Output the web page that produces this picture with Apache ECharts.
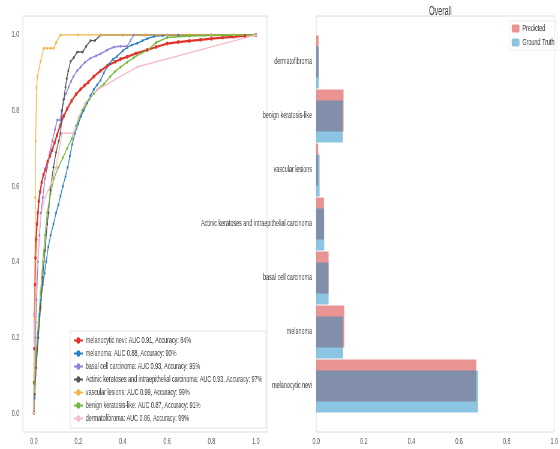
<!DOCTYPE html>
<html>
<head>
<meta charset="utf-8">
<script src="https://cdn.jsdelivr.net/npm/echarts@6.0.0/dist/echarts.min.js"></script>
<style>
html, body { margin: 0; padding: 0; background: #fff; overflow: hidden; }
/* the figure is drawn wide and squeezed horizontally, like the reference */
#main { width: 933px; height: 449px; transform: scaleX(0.6); transform-origin: 0 0; }
</style>
</head>
<body>
<div id="main"></div>
<script>
// ROC legend
var classNames = ['melanocytic nevi', 'melanoma', 'basal cell carcinoma',
    'Actinic keratoses and intraepithelial carcinoma', 'vascular lesions',
    'benign keratosis-like', 'dermatofibroma'];
var aucValues = ['0.91', '0.88', '0.93', '0.93', '0.99', '0.87', '0.86'];
var accValues = ['84%', '90%', '95%', '97%', '99%', '91%', '99%'];
var lineColors = ['#e2332b', '#2a7fc0', '#8f80dc', '#555555', '#f2b446', '#72b83a', '#f7bcc4'];

// ROC curves: [false positive rate, true positive rate]
var rocNevi = [[0,0],[0.001,0.08],[0.002,0.17],[0.003,0.26],[0.005,0.34],[0.007,0.41],[0.01,0.46],[0.014,0.5],[0.018,0.53],[0.022,0.56],[0.028,0.585],[0.035,0.61],[0.043,0.63],[0.052,0.645],[0.062,0.665],[0.072,0.68],[0.082,0.695],[0.093,0.715],[0.104,0.735],[0.118,0.76],[0.134,0.785],[0.15,0.805],[0.17,0.826],[0.19,0.843],[0.21,0.856],[0.228,0.866],[0.245,0.875],[0.27,0.89],[0.3,0.905],[0.33,0.918],[0.366,0.929],[0.39,0.936],[0.42,0.942],[0.46,0.951],[0.51,0.96],[0.55,0.968],[0.6,0.977],[0.65,0.981],[0.7,0.984],[0.75,0.987],[0.8,0.99],[0.85,0.993],[0.9,0.995],[0.95,0.998],[1,1]];
var rocMelanoma = [[0,0],[0.003,0.04],[0.007,0.1],[0.012,0.16],[0.018,0.21],[0.025,0.26],[0.032,0.3],[0.04,0.34],[0.048,0.37],[0.055,0.4],[0.065,0.44],[0.075,0.47],[0.088,0.5],[0.1,0.53],[0.11,0.55],[0.12,0.575],[0.13,0.6],[0.142,0.625],[0.152,0.65],[0.162,0.68],[0.172,0.71],[0.185,0.74],[0.2,0.765],[0.212,0.785],[0.224,0.8],[0.24,0.82],[0.255,0.84],[0.27,0.856],[0.285,0.868],[0.3,0.88],[0.315,0.9],[0.336,0.922],[0.355,0.935],[0.374,0.943],[0.4,0.958],[0.42,0.967],[0.44,0.973],[0.465,0.978],[0.49,0.985],[0.51,0.99],[0.54,0.996],[0.58,0.998],[0.65,1],[0.8,1],[1,1]];
var rocBcc = [[0,0],[0.003,0.1],[0.007,0.2],[0.012,0.3],[0.018,0.4],[0.025,0.47],[0.032,0.53],[0.04,0.57],[0.05,0.62],[0.06,0.65],[0.072,0.69],[0.083,0.72],[0.095,0.75],[0.105,0.775],[0.118,0.775],[0.125,0.8],[0.133,0.828],[0.145,0.845],[0.156,0.862],[0.168,0.878],[0.178,0.89],[0.195,0.905],[0.21,0.915],[0.23,0.928],[0.254,0.938],[0.28,0.945],[0.3,0.95],[0.33,0.96],[0.36,0.968],[0.39,0.97],[0.42,0.97],[0.435,0.985],[0.45,1],[0.6,1],[0.8,1],[1,1]];
var rocAkiec = [[0,0],[0.004,0.05],[0.01,0.12],[0.02,0.2],[0.03,0.28],[0.04,0.36],[0.05,0.43],[0.06,0.5],[0.066,0.53],[0.074,0.59],[0.088,0.65],[0.1,0.69],[0.112,0.72],[0.12,0.74],[0.124,0.77],[0.127,0.8],[0.135,0.83],[0.142,0.862],[0.148,0.885],[0.155,0.905],[0.165,0.93],[0.18,0.94],[0.195,0.955],[0.22,0.955],[0.235,0.97],[0.255,0.985],[0.275,0.985],[0.3,1],[0.4,1],[0.5,1],[0.6,1],[0.7,1],[0.8,1],[0.9,1],[1,1]];
var rocVasc = [[0,0],[0.002,0.1],[0.004,0.25],[0.005,0.4],[0.006,0.57],[0.008,0.72],[0.012,0.86],[0.016,0.89],[0.03,0.93],[0.044,0.965],[0.06,0.965],[0.075,0.965],[0.089,0.965],[0.1,0.98],[0.12,1],[0.2,1],[0.3,1],[0.4,1],[0.5,1],[0.6,1],[0.7,1],[0.8,1],[0.9,1],[1,1]];
var rocBkl = [[0,0],[0.004,0.08],[0.01,0.16],[0.02,0.24],[0.03,0.32],[0.04,0.4],[0.05,0.47],[0.06,0.53],[0.075,0.58],[0.09,0.62],[0.11,0.65],[0.13,0.675],[0.15,0.7],[0.17,0.725],[0.19,0.76],[0.205,0.78],[0.218,0.8],[0.235,0.815],[0.25,0.83],[0.27,0.845],[0.285,0.855],[0.315,0.87],[0.344,0.89],[0.365,0.903],[0.39,0.915],[0.42,0.928],[0.45,0.94],[0.485,0.952],[0.52,0.963],[0.55,0.98],[0.6,0.993],[0.7,0.997],[0.85,0.999],[1,1]];
var rocDf = [[0,0],[0,0.13],[0.005,0.26],[0.01,0.35],[0.02,0.43],[0.03,0.52],[0.05,0.57],[0.08,0.61],[0.1,0.65],[0.127,0.74],[0.178,0.74],[0.2,0.78],[0.23,0.82],[0.285,0.855],[0.464,0.915],[1,1]];
var rocCurves = [rocNevi, rocMelanoma, rocBcc, rocAkiec, rocVasc, rocBkl, rocDf];

// Overall class share
var barCategories = ['melanocytic nevi', 'melanoma', 'basal cell carcinoma',
    'Actinic keratoses and intraepithelial carcinoma', 'vascular lesions',
    'benign keratosis-like', 'dermatofibroma'];
var predicted = [0.662, 0.116, 0.051, 0.032, 0.008, 0.113, 0.010];
var groundTruth = [0.669, 0.111, 0.051, 0.033, 0.014, 0.110, 0.011];
var tickValues = [0, 0.2, 0.4, 0.6, 0.8, 1.0];

var chart = echarts.init(document.getElementById('main'));

var font = 'Liberation Sans';
var labelColor = '#555';
var frameColor = '#dcdcdc';

function fmt(v) { return v.toFixed(1); }

var legendNames = classNames.map(function (n, i) {
    return n + ': AUC ' + aucValues[i] + ', Accuracy: ' + accValues[i];
});

var rocSeries = rocCurves.map(function (d, i) {
    return {
        name: legendNames[i],
        type: 'line',
        xAxisIndex: 0,
        yAxisIndex: 0,
        data: d,
        symbol: 'circle',
        symbolSize: i === 0 ? 4 : 3,
        showSymbol: true,
        lineStyle: { width: i === 0 ? 2.2 : 1.4, color: lineColors[i] },
        itemStyle: { color: lineColors[i] }
    };
});

chart.setOption({
    animation: false,
    title: {
        text: 'Overall',
        left: 729,
        textAlign: 'center',
        top: 1,
        textStyle: { fontFamily: font, fontSize: 12, fontWeight: 'normal', color: '#333' }
    },
    legend: [{
        data: legendNames,
        orient: 'vertical',
        left: 117,
        top: 331,
        padding: [5, 6, 5, 5],
        itemGap: 4,
        itemWidth: 15,
        itemHeight: 8,
        borderColor: '#e2e2e2',
        borderWidth: 1,
        backgroundColor: '#fff',
        textStyle: { fontFamily: font, fontSize: 9, color: '#333', lineHeight: 9 }
    }, {
        data: ['Predicted', 'Ground Truth'],
        orient: 'vertical',
        right: 5,
        top: 21,
        padding: [3, 4, 3, 4],
        itemGap: 5,
        itemWidth: 13,
        itemHeight: 8,
        borderColor: '#ececec',
        borderWidth: 1,
        textStyle: { fontFamily: font, fontSize: 9, color: '#333', lineHeight: 9 }
    }],
    grid: [
        { left: 38, right: 488, top: 16, bottom: 17, show: true, borderColor: frameColor, borderWidth: 1 },
        { left: 527, right: 3, top: 16, bottom: 17, show: true, borderColor: frameColor, borderWidth: 1 },
        { left: 527, right: 3, top: 35, bottom: 36 }
    ],
    xAxis: [{
        gridIndex: 0, type: 'value', min: -0.05, max: 1.05,
        axisLine: { show: false }, axisTick: { show: false }, splitLine: { show: false },
        axisLabel: { customValues: tickValues, formatter: fmt, fontFamily: font, fontSize: 9, color: labelColor, margin: 5 }
    }, {
        gridIndex: 1, type: 'value', min: 0, max: 1, interval: 0.2,
        axisLine: { show: false }, axisTick: { show: false }, splitLine: { show: false },
        axisLabel: { formatter: fmt, fontFamily: font, fontSize: 9, color: labelColor, margin: 5 }
    }, {
        gridIndex: 2, type: 'value', min: 0, max: 1, show: false
    }],
    yAxis: [{
        gridIndex: 0, type: 'value', min: -0.05, max: 1.05,
        axisLine: { show: false }, axisTick: { show: false }, splitLine: { show: false },
        axisLabel: { customValues: tickValues, formatter: fmt, fontFamily: font, fontSize: 9, color: labelColor, margin: 6 }
    }, {
        gridIndex: 1, type: 'value', min: 0, max: 1, show: false
    }, {
        gridIndex: 2, type: 'category', data: barCategories,
        axisLine: { show: false }, axisTick: { show: false }, splitLine: { show: false },
        axisLabel: { fontFamily: font, fontSize: 9, color: '#333', margin: 7 }
    }],
    series: rocSeries.concat([{
        name: 'Predicted',
        type: 'bar',
        xAxisIndex: 2,
        yAxisIndex: 2,
        data: predicted,
        barWidth: 42,
        barGap: '-74%',
        itemStyle: { color: '#d62728', opacity: 0.5 }
    }, {
        name: 'Ground Truth',
        type: 'bar',
        xAxisIndex: 2,
        yAxisIndex: 2,
        data: groundTruth,
        barWidth: 42,
        barGap: '-74%',
        itemStyle: { color: '#198cc3', opacity: 0.5 }
    }])
});
</script>
</body>
</html>
